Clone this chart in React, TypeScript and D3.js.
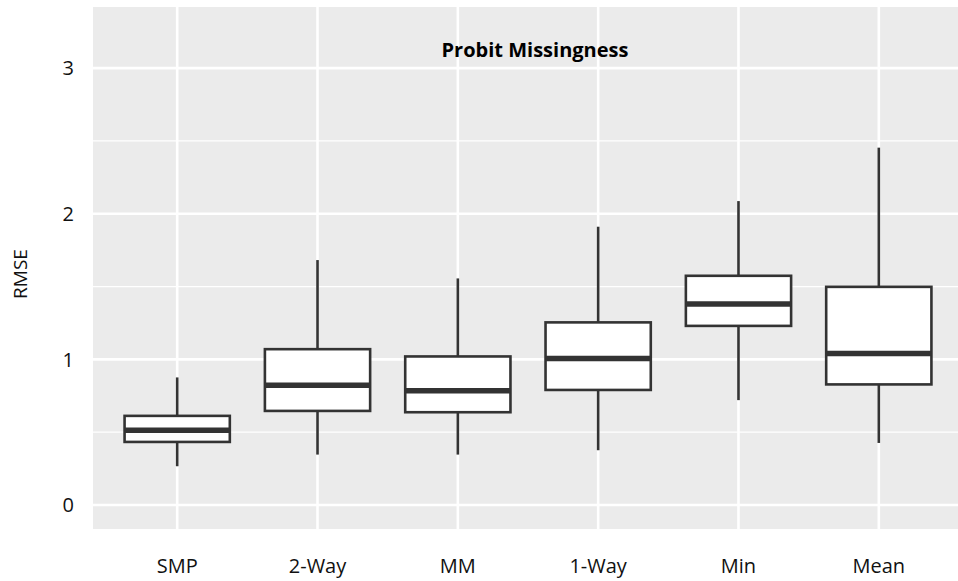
import React from 'react'
import * as d3 from 'd3'

// Box statistics (RMSE)
const methods = ['SMP', '2-Way', 'MM', '1-Way', 'Min', 'Mean']
const whiskerLow = [0.266, 0.346, 0.346, 0.376, 0.72, 0.426]
const q1 = [0.433, 0.646, 0.637, 0.79, 1.23, 0.828]
const median = [0.513, 0.823, 0.784, 1.006, 1.381, 1.041]
const q3 = [0.612, 1.07, 1.02, 1.254, 1.574, 1.498]
const whiskerHigh = [0.876, 1.682, 1.556, 1.911, 2.087, 2.454]

const yTicks = [0, 1, 2, 3]
const yMinor = [0.5, 1.5, 2.5]

const width = 958
const height = 581
const panel = { left: 93, right: 963, top: 7, bottom: 529 }
const font = "'Open Sans', 'Noto Sans', sans-serif"
const ink = '#333333'

export default function App() {
  const x = d3
    .scalePoint<string>()
    .domain(methods)
    .range([panel.left, panel.right])
    .padding(0.6)
  const y = d3
    .scaleLinear()
    .domain([-0.165, 3.42])
    .range([panel.bottom, panel.top])

  const boxW = x.step() * 0.75

  return (
    <svg
      width={width}
      height={height}
      style={{ position: 'absolute', left: 0, top: 0, background: '#fff' }}
      fontFamily={font}
    >
      <defs>
        <clipPath id="panel-clip">
          <rect x={panel.left} y={panel.top} width={panel.right - panel.left} height={panel.bottom - panel.top} />
        </clipPath>
      </defs>

      {/* panel background */}
      <rect
        x={panel.left}
        y={panel.top}
        width={panel.right - panel.left}
        height={panel.bottom - panel.top}
        fill="#EBEBEB"
      />

      <g clipPath="url(#panel-clip)">
        {/* minor grid */}
        {yMinor.map((t) => (
          <line key={'m' + t} x1={panel.left} x2={panel.right} y1={y(t)} y2={y(t)} stroke="#fff" strokeWidth={1.3} />
        ))}
        {/* major grid */}
        {yTicks.map((t) => (
          <line key={'g' + t} x1={panel.left} x2={panel.right} y1={y(t)} y2={y(t)} stroke="#fff" strokeWidth={2.6} />
        ))}
        {methods.map((m) => (
          <line key={'v' + m} x1={x(m)} x2={x(m)} y1={panel.top} y2={panel.bottom} stroke="#fff" strokeWidth={2.6} />
        ))}

        {/* boxes */}
        {methods.map((m, i) => {
          const cx = x(m) as number
          return (
            <g key={'b' + m}>
              <line x1={cx} x2={cx} y1={y(whiskerHigh[i])} y2={y(q3[i])} stroke={ink} strokeWidth={2.6} />
              <line x1={cx} x2={cx} y1={y(q1[i])} y2={y(whiskerLow[i])} stroke={ink} strokeWidth={2.6} />
              <rect
                x={cx - boxW / 2}
                y={y(q3[i])}
                width={boxW}
                height={y(q1[i]) - y(q3[i])}
                fill="#fff"
                stroke={ink}
                strokeWidth={2.6}
              />
              <line
                x1={cx - boxW / 2}
                x2={cx + boxW / 2}
                y1={y(median[i])}
                y2={y(median[i])}
                stroke={ink}
                strokeWidth={5.5}
              />
            </g>
          )
        })}
      </g>

      {/* title */}
      <text x={535} y={57} textAnchor="middle" fontSize={20} fontWeight="bold" fill="#000">
        Probit Missingness
      </text>

      {/* y axis labels */}
      {yTicks.map((t) => (
        <text key={'yl' + t} x={74} y={y(t)} dy="0.36em" textAnchor="end" fontSize={20} fill="#111">
          {t}
        </text>
      ))}
      <text
        transform={`translate(27, ${(panel.top + panel.bottom) / 2 + 6}) rotate(-90)`}
        textAnchor="middle"
        fontSize={19}
        fill="#111"
      >
        RMSE
      </text>

      {/* x axis labels */}
      {methods.map((m) => (
        <text key={'xl' + m} x={x(m)} y={573} textAnchor="middle" fontSize={20} fill="#111">
          {m}
        </text>
      ))}
    </svg>
  )
}
